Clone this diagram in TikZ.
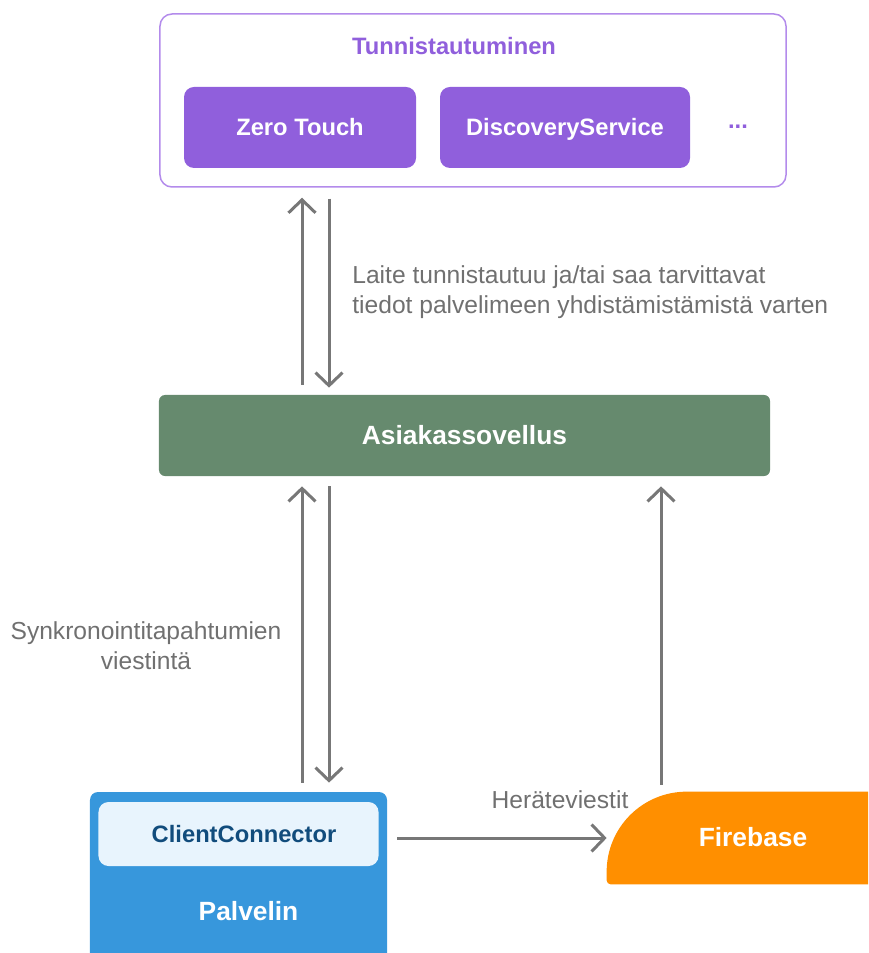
\documentclass[tikz,border=0pt]{standalone}
\usepackage{fontspec}
\setmainfont{Liberation Sans}
\usetikzlibrary{positioning,arrows.meta,calc}
\definecolor{authpurple}{HTML}{905FDC}
\definecolor{authline}{HTML}{B38BEB}
\definecolor{appgreen}{HTML}{668A6E}
\definecolor{srvblue}{HTML}{3797DC}
\definecolor{connfill}{HTML}{E8F4FD}
\definecolor{conntext}{HTML}{114C7C}
\definecolor{fborange}{HTML}{FF8F00}
\definecolor{arrowgray}{HTML}{777777}
\definecolor{labelgray}{HTML}{707070}

\begin{document}
\begin{tikzpicture}[
    x=0.2mm, y=-0.2mm,
    arr/.style={
        draw=arrowgray,
        line width=0.6mm,
        -{Straight Barb[length=2.6mm,width=5.4mm]}
    },
    box/.style={
        rectangle,
        rounded corners=2mm,
        inner sep=0pt,
        text height=9.6pt,
        text depth=0.4pt,
        text=white,
        font=\fontsize{13.5}{16}\selectfont\bfseries
    },
    bigbox/.style={box, text height=10.6pt, font=\fontsize{15}{18}\selectfont\bfseries},
    note/.style={text=labelgray, inner sep=0pt, font=\fontsize{14}{17}\selectfont}
]
\clip (0,0) rectangle (868,953);

\node[rectangle, rounded corners=2.4mm, draw=authline, line width=0.3mm,
      minimum width=125.2mm, minimum height=34.6mm] (auth) at (473,100.5) {};
\node[text=authpurple, inner sep=0pt, font=\fontsize{13.5}{16}\selectfont\bfseries] (authtitle) at (454,46) {Tunnistautuminen};
\node[box, fill=authpurple, minimum width=46.4mm, minimum height=16.2mm] (zero) at (300,127.5) {Zero Touch};
\node[box, fill=authpurple, minimum width=50mm, minimum height=16.2mm] (disc) at (565,127.5) {DiscoveryService};
\node[text=authpurple, inner sep=0pt, font=\fontsize{13.5}{16}\selectfont\bfseries] (more) at (738,127) {...};

\node[bigbox, fill=appgreen, rounded corners=1.2mm, minimum width=122.2mm, minimum height=16.2mm] (app) at (464.5,435.5) {Asiakassovellus};

\node[bigbox, fill=srvblue, rounded corners=1.6mm, minimum width=59.4mm, minimum height=48mm] (srv) at (238.5,912) {\hspace*{4mm}Palvelin};
\node[box, fill=connfill, text=conntext, minimum width=56mm, minimum height=12.8mm] (conn) at (238.5,834) {\hspace*{2.2mm}ClientConnector};

\node[bigbox, minimum width=58.4mm, minimum height=18.4mm] (fb) at (753,838) {};
\fill[fborange] (fb.north east) -- ([xshift=16mm]fb.north west)
    arc[start angle=90, end angle=180, radius=16mm]
    -- ([yshift=0.8mm]fb.south west) arc[start angle=180, end angle=270, radius=0.8mm]
    -- (fb.south east) -- cycle;
\node[bigbox] (fbtext) at (fb.center) {Firebase};

\coordinate (colA) at (302,0);
\coordinate (colB) at (329,0);
\coordinate (colC) at (661,0);

\draw[arr, shorten <=2mm, shorten >=2mm] (app.north -| colA) -- (auth.south -| colA);
\draw[arr, shorten <=2.2mm, shorten >=1.4mm] (auth.south -| colB) -- (app.north -| colB);
\draw[arr, shorten <=1.8mm, shorten >=2mm] (srv.north -| colA) -- (app.south -| colA);
\draw[arr, shorten <=2mm, shorten >=1.8mm] (app.south -| colB) -- (srv.north -| colB);
\draw[arr, shorten <=1.4mm, shorten >=2mm] (fb.north -| colC) -- (app.south -| colC);
\draw[arr, shorten <=2mm] (srv.east |- fb.west) -- (fb.west);

\node[note, anchor=west, align=left] (authnote) at (352,292) {Laite tunnistautuu ja/tai saa tarvittavat\\tiedot palvelimeen yhdistämistämistä varten};
\node[note, align=center] (syncnote) at (146,646) {Synkronointitapahtumien\\viestintä};
\node[note] (wakenote) at (560,800) {Heräteviestit};

\end{tikzpicture}
\end{document}
